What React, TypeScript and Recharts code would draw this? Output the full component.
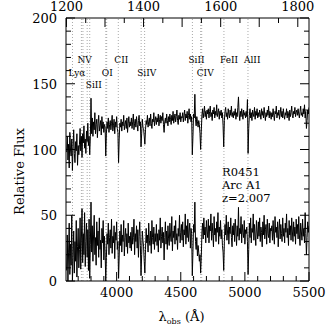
import React from 'react';
import { LineChart, Line, XAxis, YAxis, ReferenceLine } from 'recharts';

// spectrum sampled every 5 A starting at 3610 A (one row = 100 A)
const lambdaStart = 3610;
const lambdaStep = 5;

const arcFlux = [
  98, 110, 92, 104, 86, 113, 100, 95, 108, 84, 102, 115, 97, 90, 106, 99, 112, 88, 103, 96,
  104, 116, 99, 110, 94, 112, 105, 118, 101, 108, 97, 114, 106, 120, 103, 110, 96, 110, 139, 112,
  124, 110, 121, 115, 128, 112, 119, 123, 109, 120, 126, 114, 118, 122, 111, 125, 116, 121, 113, 119,
  117, 95, 112, 121, 116, 124, 113, 119, 122, 115, 120, 126, 114, 118, 123, 112, 121, 117, 125, 116,
  113, 90, 108, 120, 117, 123, 114, 121, 118, 126, 115, 119, 122, 116, 124, 113, 120, 125, 117, 121,
  118, 124, 116, 121, 127, 115, 120, 123, 117, 125, 119, 114, 122, 126, 118, 121, 102, 112, 123, 117,
  116, 110, 104, 115, 122, 119, 126, 117, 121, 124, 118, 127, 120, 116, 123, 121, 128, 118, 122, 125,
  119, 124, 121, 127, 118, 123, 126, 120, 125, 122, 128, 119, 113, 121, 124, 120, 127, 122, 118, 125,
  121, 127, 123, 119, 126, 122, 129, 120, 124, 127, 121, 125, 130, 122, 119, 126, 123, 128, 121, 125,
  124, 128, 121, 126, 130, 122, 127, 124, 129, 120, 126, 131, 123, 127, 121, 125, 96, 110, 127, 124,
  142, 123, 118, 125, 121, 117, 122, 119, 112, 100, 114, 126, 131, 124, 128, 133, 125, 129, 123, 130,
  127, 131, 124, 129, 133, 125, 128, 122, 130, 127, 132, 124, 129, 126, 134, 125, 128, 131, 123, 129,
  126, 130, 124, 128, 118, 102, 122, 129, 132, 125, 128, 123, 131, 127, 124, 130, 126, 133, 125, 128,
  124, 129, 126, 131, 123, 128, 125, 132, 140, 127, 122, 129, 125, 131, 127, 123, 130, 126, 128, 124,
  129, 125, 138, 97, 116, 126, 131, 124, 128, 122, 130, 127, 125, 132, 123, 129, 126, 131, 124, 128,
  125, 130, 127, 123, 131, 126, 129, 124, 132, 127, 122, 128, 125, 130, 126, 133, 124, 129, 127, 123,
  128, 125, 131, 126, 122, 129, 127, 133, 124, 128, 126, 130, 123, 127, 132, 125, 129, 124, 131, 126,
  123, 128, 126, 131, 124, 129, 127, 122, 130, 125, 128, 133, 126, 124, 129, 127, 132, 125, 128, 130,
  126, 131, 127, 124, 129, 133, 126, 128, 125, 131, 127, 134, 124, 129, 116, 122, 130, 127, 132,
];

const lowFlux = [
  8, 35, 0, 22, 44, 5, 28, 12, 50, 0, 18, 38, 6, 30, 15, 46, 3, 26, 40, 10,
  24, 48, 9, 32, 55, 14, 36, 20, 52, 11, 30, 44, 18, 39, 8, 47, 2, 28, 60, 22,
  42, 15, 35, 50, 20, 33, 12, 45, 27, 38, 18, 48, 24, 31, 10, 40, 29, 46, 16, 34,
  22, 0, 18, 36, 28, 44, 20, 33, 39, 25, 47, 21, 34, 29, 42, 17, 37, 31, 45, 24,
  30, 2, 19, 38, 27, 43, 22, 35, 30, 46, 19, 33, 40, 26, 36, 21, 44, 29, 34, 25,
  37, 23, 41, 28, 33, 47, 20, 36, 30, 42, 25, 39, 18, 34, 45, 27, 4, 20, 38, 31,
  26, 15, 6, 24, 40, 29, 35, 22, 44, 31, 27, 38, 21, 46, 33, 28, 41, 24, 36, 30,
  43, 27, 36, 22, 39, 31, 48, 25, 34, 41, 29, 37, 16, 33, 45, 28, 38, 24, 42, 32,
  27, 44, 35, 30, 49, 23, 38, 33, 42, 28, 46, 31, 36, 24, 40, 34, 50, 29, 37, 43,
  31, 45, 26, 39, 35, 51, 28, 42, 33, 47, 30, 38, 44, 25, 40, 36, 4, 22, 43, 37,
  60, 30, 24, 33, 19, 27, 22, 15, 20, 6, 18, 37, 44, 32, 48, 35, 41, 29, 46, 38,
  33, 47, 29, 42, 38, 51, 31, 44, 36, 26, 49, 35, 40, 30, 45, 37, 52, 28, 41, 34,
  46, 32, 39, 27, 22, 8, 30, 43, 35, 50, 31, 38, 45, 28, 41, 36, 48, 33, 26, 42,
  35, 44, 30, 47, 38, 27, 42, 34, 56, 31, 40, 36, 49, 29, 43, 37, 33, 46, 28, 39,
  36, 41, 30, 5, 24, 44, 33, 48, 29, 40, 37, 51, 31, 43, 35, 27, 46, 38, 32, 45,
  34, 48, 30, 41, 37, 26, 45, 35, 50, 32, 39, 43, 28, 47, 36, 33, 44, 29, 40, 38,
  42, 31, 46, 35, 28, 49, 37, 41, 33, 45, 26, 39, 47, 32, 43, 36, 30, 48, 34, 40,
  29, 44, 37, 51, 33, 40, 27, 46, 35, 42, 31, 48, 38, 30, 45, 34, 41, 28, 47, 36,
  43, 32, 49, 35, 27, 44, 38, 31, 47, 34, 40, 29, 52, 36, 20, 33, 45, 37, 42,
];

const redshift = 2.007;
const obsDomain = [3605, 5500];

const obsTicks = [3700, 3800, 3900, 4000, 4100, 4200, 4300, 4400, 4500, 4600, 4700, 4800, 4900, 5000, 5100, 5200, 5300, 5400, 5500];
const restTicks = [1200, 1250, 1300, 1350, 1400, 1450, 1500, 1550, 1600, 1650, 1700, 1750, 1800];
const fluxTicks = [0, 10, 20, 30, 40, 50, 60, 70, 80, 90, 100, 110, 120, 130, 140, 150, 160, 170, 180, 190, 200];

// rest wavelengths of the marked lines; empty name = unlabelled partner of a doublet
const lineRest = [1215.67, 1238.8, 1242.8, 1253.8, 1260.42, 1302.17, 1304.37, 1334.53, 1393.76, 1402.77, 1526.71, 1548.2, 1550.78, 1608.45, 1670.79];
const lineNames = ['Lyα', 'NV', '', '', 'SiII', 'OI', '', 'CII', 'SiIV', '', 'SiII', 'CIV', '', 'FeII', 'AlII'];
const lineLabelRow = [1, 0, 0, 0, 2, 1, 0, 0, 1, 0, 0, 1, 0, 0, 0];

const data = arcFlux.map((v, i) => ({
  lambda: lambdaStart + i * lambdaStep,
  arc: v,
  low: lowFlux[i],
}));

const FONT = '"DejaVu Serif", serif';

const BottomTick = (props: any) => {
  const { x, y, payload } = props;
  const major = payload.value % 500 === 0;
  return <g>
      <line x1={x} y1={y} x2={x} y2={y - (major ? 9 : 5)} stroke="#000" />
      {major && <text x={x} y={y + 16} textAnchor="middle" fontFamily={FONT} fontSize={13} fill="#000">{payload.value}</text>}
    </g>;
};

const TopTick = (props: any) => {
  const { x, y, payload } = props;
  const rest = Math.round(payload.value / (1 + redshift));
  const major = rest % 100 === 0;
  return <g>
      <line x1={x} y1={y} x2={x} y2={y + (major ? 9 : 5)} stroke="#000" />
      {rest % 200 === 0 && <text x={x} y={y - 7} textAnchor="middle" fontFamily={FONT} fontSize={13} fill="#000">{rest}</text>}
    </g>;
};

const LeftTick = (props: any) => {
  const { x, y, payload } = props;
  const major = payload.value % 50 === 0;
  return <g>
      <line x1={x} y1={y} x2={x + (major ? 9 : 5)} y2={y} stroke="#000" />
      {major && <text x={x - 9} y={y + 5} textAnchor="end" fontFamily={FONT} fontSize={13} fill="#000">{payload.value}</text>}
    </g>;
};

const RightTick = (props: any) => {
  const { x, y, payload } = props;
  const major = payload.value % 50 === 0;
  return <line x1={x} y1={y} x2={x - (major ? 9 : 5)} y2={y} stroke="#000" />;
};

const LineTag = (props: any) => {
  const { viewBox, name, row } = props;
  if (!name || !viewBox) return null;
  return <text x={viewBox.x - 4} y={63 + row * 12.5} fontFamily={FONT} fontSize={9} fill="#000">{name}</text>;
};

const XTitle = (props: any) => {
  const { viewBox } = props;
  const cx = viewBox.x + viewBox.width / 2 - 6;
  return <text x={cx} y={viewBox.y + 40} textAnchor="middle" fontFamily={FONT} fontSize={13} fill="#000">
      <tspan>λ</tspan>
      <tspan fontSize={8} dy={3}>obs</tspan>
      <tspan dy={-3}>{'  (Å)'}</tspan>
    </text>;
};

const YTitle = (props: any) => {
  const { viewBox } = props;
  const cy = viewBox.y + viewBox.height / 2 + 22;
  return <text x={20} y={cy} transform={`rotate(-90 20 ${cy})`} textAnchor="middle" dominantBaseline="middle" fontFamily={FONT} fontSize={13} fill="#000">Relative Flux</text>;
};

export default function App() {
  const topTicks = restTicks.map(t => t * (1 + redshift));
  return <div style={{ position: 'absolute', left: 0, top: 0, width: 327, height: 327, background: '#fff' }}>
      <LineChart width={327} height={327} data={data} margin={{ top: 0, right: 0, bottom: 0, left: 0 }}>
        <XAxis xAxisId="obs" dataKey="lambda" type="number" domain={obsDomain} allowDataOverflow ticks={obsTicks} interval={0} tickSize={0} tickMargin={0} tick={<BottomTick />} height={46} axisLine={{ stroke: '#000' }} label={<XTitle />} />
        <XAxis xAxisId="top" orientation="top" dataKey="lambda" type="number" domain={obsDomain} allowDataOverflow ticks={topTicks} interval={0} tickSize={0} tickMargin={0} tick={<TopTick />} height={18} axisLine={{ stroke: '#000' }} />
        <YAxis yAxisId="flux" type="number" domain={[0, 200]} allowDataOverflow ticks={fluxTicks} interval={0} tickSize={0} tickMargin={0} tick={<LeftTick />} width={66} axisLine={{ stroke: '#000' }} label={<YTitle />} />
        <YAxis yAxisId="right" orientation="right" type="number" domain={[0, 200]} allowDataOverflow ticks={fluxTicks} interval={0} tickSize={0} tickMargin={0} tick={<RightTick />} width={18} axisLine={{ stroke: '#000' }} />
        {lineRest.map((w, i) => <ReferenceLine key={i} xAxisId="obs" yAxisId="flux" x={w * (1 + redshift)} stroke="#aaa" strokeDasharray="1 2" label={<LineTag name={lineNames[i]} row={lineLabelRow[i]} />} />)}
        <Line xAxisId="obs" yAxisId="flux" dataKey="arc" stroke="#000" strokeWidth={1} dot={false} type="linear" isAnimationActive={false} />
        <Line xAxisId="obs" yAxisId="flux" dataKey="low" stroke="#000" strokeWidth={1} dot={false} type="linear" isAnimationActive={false} />
        <text x={222} y={176} fontFamily={FONT} fontSize={11.5} fill="#000">R0451</text>
        <text x={222} y={189} fontFamily={FONT} fontSize={11.5} fill="#000">Arc A1</text>
        <text x={222} y={202} fontFamily={FONT} fontSize={11.5} fill="#000">z=2.007</text>
      </LineChart>
    </div>;
}
